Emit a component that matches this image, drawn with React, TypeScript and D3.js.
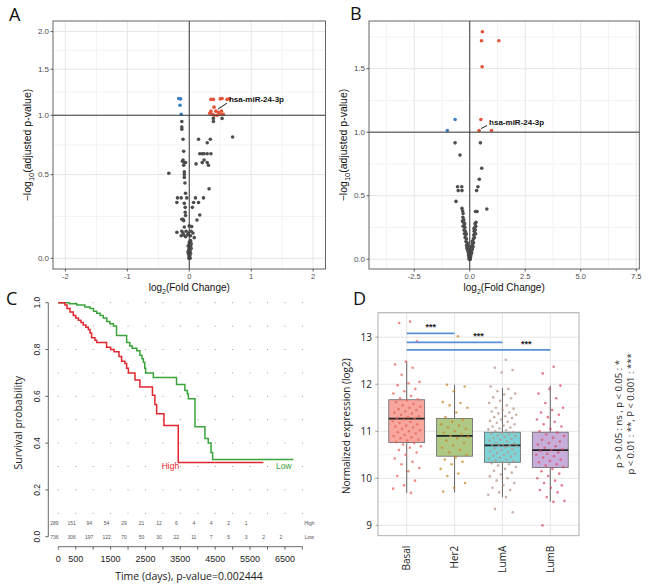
import React from 'react';
import * as d3 from 'd3';

/* ---------- panel A : volcano (log1p y axis) ---------- */
// [log2 fold change, -log10 adjusted p]
const aUp: [number, number][] = [
  [0.35, 1.16], [0.39, 1.16], [0.5, 1.165], [0.53, 1.17], [0.61, 1.16], [0.65, 1.165],
  [0.4, 1.08], [0.35, 1.04], [0.47, 1.03], [0.52, 1.04], [0.37, 1.01], [0.4, 1.0],
  [0.45, 1.0], [0.5, 1.01], [0.55, 1.01], [0.33, 1.02], [0.43, 1.04],
];
const aDown: [number, number][] = [[-0.17, 1.17], [-0.14, 1.165], [-0.15, 1.1], [-0.13, 1.01]];
const aNs: [number, number][] = [
  [0.39, 0.97], [0.53, 0.97], [0.39, 0.94], [-0.12, 0.94], [-0.12, 0.89], [-0.12, 0.87],
  [0.7, 0.8], [0.15, 0.78], [0.34, 0.78], [0.29, 0.75], [-0.1, 0.78], [-0.09, 0.68],
  [0.17, 0.66], [0.21, 0.66], [0.24, 0.66], [0.29, 0.66], [0.35, 0.66],
  [0.24, 0.61], [0.29, 0.59], [0.21, 0.59], [0.11, 0.58], [0.31, 0.57],
  [-0.11, 0.6], [-0.08, 0.59], [-0.06, 0.59], [-0.09, 0.57], [-0.1, 0.61],
  [-0.33, 0.51], [-0.08, 0.52], [-0.08, 0.5], [-0.08, 0.48], [-0.07, 0.44], [0.32, 0.4],
  [-0.19, 0.34], [-0.06, 0.37], [-0.04, 0.34], [0.1, 0.34], [0.23, 0.34],
  [-0.2, 0.31], [0.07, 0.31], [0.15, 0.31], [-0.08, 0.305], [-0.13, 0.34],
  [-0.065, 0.28], [-0.065, 0.25], [-0.06, 0.23], [0.05, 0.28], [0.17, 0.233], [0.125, 0.204],
  [-0.12, 0.208], [-0.1, 0.208], [-0.09, 0.2],
  [-0.08, 0.164], [0.04, 0.166], [0.0, 0.17],
  [-0.2, 0.134], [-0.12, 0.14], [-0.1, 0.13], [-0.05, 0.14], [-0.01, 0.13], [0.03, 0.14], [0.06, 0.13],
  [-0.13, 0.115], [-0.06, 0.11], [0.02, 0.115], [0.08, 0.105], [-0.09, 0.12], [-0.03, 0.12],
  [0.02, 0.09], [0.0, 0.08], [0.03, 0.07], [-0.01, 0.065], [0.02, 0.06], [0.01, 0.055],
  [0.0, 0.05], [0.02, 0.045], [-0.01, 0.04], [0.01, 0.035], [0.0, 0.03], [0.02, 0.025],
  [-0.01, 0.02], [0.01, 0.015], [0.0, 0.01], [0.005, 0.005], [-0.005, 0.0], [0.015, 0.0],
  [0.03, 0.05], [-0.02, 0.03], [0.025, 0.08], [-0.015, 0.06],
];
const aLabelPoint: [number, number] = [0.43, 1.04];

/* ---------- panel B : volcano (linear) ---------- */
const bUp: [number, number][] = [
  [0.57, 1.79], [0.53, 1.72], [1.31, 1.72], [0.56, 1.515], [0.5, 1.1], [0.42, 1.013], [0.98, 1.013],
];
const bDown: [number, number][] = [[-0.66, 1.1], [-1.01, 1.013]];
const bNs: [number, number][] = [
  [-0.66, 0.916], [0.48, 0.916], [-0.44, 0.82], [0.54, 0.716], [0.43, 0.63],
  [-0.55, 0.57], [-0.36, 0.57], [-0.52, 0.54], [-0.35, 0.54], [0.37, 0.57], [0.31, 0.54],
  [-0.62, 0.455], [0.77, 0.395], [0.26, 0.376], [0.33, 0.376],
  [-0.35, 0.4], [-0.32, 0.38], [-0.3, 0.36], [-0.31, 0.33], [-0.27, 0.31], [-0.33, 0.3],
  [-0.28, 0.29], [-0.25, 0.27], [-0.3, 0.26], [-0.22, 0.25], [-0.26, 0.23], [-0.2, 0.22],
  [-0.24, 0.2], [-0.18, 0.19], [-0.21, 0.17], [-0.15, 0.16], [-0.17, 0.14], [-0.12, 0.13],
  [-0.14, 0.11], [-0.1, 0.1], [-0.11, 0.08], [-0.08, 0.07], [-0.06, 0.05], [-0.04, 0.04],
  [-0.05, 0.03], [-0.02, 0.02], [-0.03, 0.01], [-0.01, 0.005],
  [0.28, 0.29], [0.24, 0.28], [0.27, 0.26], [0.22, 0.25], [0.25, 0.23], [0.2, 0.22],
  [0.23, 0.2], [0.18, 0.19], [0.21, 0.17], [0.16, 0.16], [0.14, 0.14], [0.17, 0.13],
  [0.12, 0.12], [0.15, 0.1], [0.1, 0.09], [0.12, 0.08], [0.08, 0.07], [0.06, 0.06],
  [0.09, 0.05], [0.05, 0.04], [0.03, 0.03], [0.04, 0.02], [0.02, 0.01], [0.01, 0.005],
  [0.0, 0.0], [0.02, 0.0], [-0.02, 0.0],
  [-0.13, 0.09], [-0.09, 0.12], [0.07, 0.1], [0.11, 0.14], [-0.07, 0.06], [0.05, 0.08],
  [-0.16, 0.2], [0.19, 0.24], [-0.23, 0.28], [0.26, 0.2], [0.0, 0.04], [-0.01, 0.07],
];
const bLabelPoint: [number, number] = [0.42, 1.013];
const geneLabel = 'hsa-miR-24-3p';

/* ---------- panel C : Kaplan-Meier ---------- */
const lowTimes = [0, 320, 530, 760, 910, 1010, 1100, 1200, 1290, 1390, 1480, 1580, 1670, 1960, 2050, 2120, 2250, 2340, 2400, 2440, 2480, 2505, 2725, 3390, 3630, 3700, 3730, 3920, 4205, 4300, 4380, 4425, 6740];
const lowSurv = [1.0, 0.995, 0.99, 0.982, 0.975, 0.963, 0.955, 0.945, 0.935, 0.92, 0.91, 0.9, 0.86, 0.83, 0.815, 0.805, 0.795, 0.775, 0.76, 0.745, 0.72, 0.7, 0.68, 0.65, 0.625, 0.61, 0.59, 0.47, 0.42, 0.4, 0.36, 0.33, 0.33];
const highTimes = [0, 190, 250, 335, 430, 500, 575, 650, 715, 790, 860, 910, 955, 1050, 1100, 1385, 1500, 1600, 1740, 1815, 1910, 1960, 2010, 2200, 2340, 2700, 2770, 2820, 3030, 3440, 5880];
const highSurv = [1.0, 0.99, 0.975, 0.96, 0.945, 0.935, 0.925, 0.915, 0.905, 0.895, 0.885, 0.87, 0.85, 0.84, 0.83, 0.81, 0.8, 0.79, 0.77, 0.75, 0.74, 0.72, 0.7, 0.67, 0.64, 0.605, 0.565, 0.525, 0.475, 0.317, 0.317];
const highAtRisk = [289, 151, 94, 54, 29, 21, 12, 6, 4, 4, 2, 1];
const lowAtRisk = [736, 306, 197, 122, 70, 50, 30, 22, 11, 7, 5, 3, 2, 2];
const cXLabels = [0, 500, 1500, 2500, 3500, 4500, 5500, 6500];
const cYTicks = [0, 0.2, 0.4, 0.6, 0.8, 1.0];

/* ---------- panel D : boxplots ---------- */
const subtypes = ['Basal', 'Her2', 'LumA', 'LumB'];
const boxQ1 = [10.76, 10.47, 10.34, 10.23];
const boxMed = [11.27, 10.9, 10.7, 10.6];
const boxQ3 = [11.67, 11.27, 10.98, 10.98];
const boxLo = [9.69, 9.7, 9.6, 9.5];
const boxHi = [12.48, 11.99, 11.92, 11.97];
const basalVals = [13.33, 13.3, 12.91, 12.48, 12.42, 12.35, 12.2, 12.05, 12.02, 11.98, 11.9, 11.85, 11.8, 11.75, 11.7, 11.68, 11.66, 11.62, 11.58, 11.55, 11.52, 11.5, 11.47, 11.45, 11.42, 11.4, 11.38, 11.35, 11.32, 11.3, 11.28, 11.27, 11.25, 11.22, 11.2, 11.18, 11.15, 11.12, 11.1, 11.08, 11.05, 11.02, 11.0, 10.98, 10.95, 10.92, 10.9, 10.87, 10.85, 10.82, 10.8, 10.77, 10.75, 10.72, 10.68, 10.65, 10.6, 10.55, 10.5, 10.42, 10.35, 10.3, 10.22, 10.15, 10.05, 9.95, 9.85, 9.78, 9.69];
const her2Vals = [13.02, 11.99, 11.95, 11.85, 11.62, 11.6, 11.55, 11.5, 11.4, 11.3, 11.25, 11.2, 11.15, 11.12, 11.08, 11.05, 11.0, 10.97, 10.93, 10.9, 10.88, 10.85, 10.8, 10.75, 10.7, 10.65, 10.6, 10.55, 10.5, 10.45, 10.4, 10.35, 10.3, 10.2, 10.1, 10.05, 9.9, 9.8, 9.72];
const lumAVals = [12.52, 12.35, 12.3, 12.25, 11.95, 11.9, 11.85, 11.8, 11.78, 11.72, 11.7, 11.65, 11.6, 11.55, 11.5, 11.48, 11.45, 11.42, 11.4, 11.38, 11.35, 11.32, 11.3, 11.28, 11.25, 11.22, 11.2, 11.18, 11.15, 11.12, 11.1, 11.08, 11.06, 11.04, 11.02, 11.0, 10.98, 10.96, 10.95, 10.93, 10.91, 10.9, 10.88, 10.86, 10.84, 10.82, 10.8, 10.78, 10.76, 10.74, 10.72, 10.71, 10.7, 10.69, 10.68, 10.66, 10.64, 10.62, 10.6, 10.58, 10.56, 10.54, 10.52, 10.5, 10.48, 10.46, 10.44, 10.42, 10.4, 10.38, 10.36, 10.34, 10.32, 10.3, 10.27, 10.24, 10.2, 10.16, 10.12, 10.08, 10.04, 10.0, 9.95, 9.9, 9.85, 9.8, 9.75, 9.7, 9.65, 9.6, 9.35, 9.28];
const lumBVals = [12.37, 12.23, 11.97, 11.9, 11.8, 11.7, 11.6, 11.5, 11.45, 11.4, 11.35, 11.3, 11.25, 11.2, 11.15, 11.1, 11.05, 11.0, 10.97, 10.93, 10.9, 10.86, 10.82, 10.78, 10.75, 10.72, 10.68, 10.65, 10.62, 10.6, 10.58, 10.55, 10.52, 10.5, 10.47, 10.44, 10.4, 10.37, 10.34, 10.3, 10.27, 10.24, 10.2, 10.15, 10.1, 10.05, 10.0, 9.95, 9.9, 9.85, 9.8, 9.75, 9.7, 9.6, 9.52, 9.5, 9.0];
const sigBarsY = [13.08, 12.89, 12.73]; // Basal vs Her2, LumA, LumB
const dYTicks = [9, 10, 11, 12, 13];

/* style */
const GG = "'Liberation Sans', Arial, sans-serif";
const SEG = "'Open Sans', 'Noto Sans', sans-serif";
const GRID_MAJ = '#E6E6E6';
const GRID_MIN = '#F3F3F3';
const NS_COL = '#4D4D4D';
const UP_COL = '#E4533A';
const DOWN_COL = '#3C7DBE';
const BOX_FILL = ['#F7A79E', '#AFC985', '#7ED3D6', '#C7AEDA'];
const PT_FILL = ['#E8655A', '#C98A2E', '#B8978A', '#D9506A'];

function GGFrame({ x0, x1, y0, y1 }: any) {
  return <rect x={x0} y={y0} width={x1 - x0} height={y1 - y0} fill="none" stroke="#555" strokeWidth={0.9} />;
}

function Volcano(props: any) {
  const { x, y, box, xMaj, xMin, yMaj, yMin, xFmt, yFmt, up, down, ns, labelPt, labelDx, labelDy, title } = props;
  const [x0, x1, y0, y1] = box;
  const pts = (arr: [number, number][], col: string) =>
    arr.map((d, i) => <circle key={col + i} cx={x(d[0])} cy={y(d[1])} r={1.8} fill={col} />);
  const lp = [x(labelPt[0]), y(labelPt[1])];
  return (
    <g>
      {xMin.map((v: number) => <line key={'xm' + v} x1={x(v)} x2={x(v)} y1={y0} y2={y1} stroke={GRID_MIN} />)}
      {yMin.map((v: number) => <line key={'ym' + v} x1={x0} x2={x1} y1={y(v)} y2={y(v)} stroke={GRID_MIN} />)}
      {xMaj.map((v: number) => <line key={'xM' + v} x1={x(v)} x2={x(v)} y1={y0} y2={y1} stroke={GRID_MAJ} />)}
      {yMaj.map((v: number) => <line key={'yM' + v} x1={x0} x2={x1} y1={y(v)} y2={y(v)} stroke={GRID_MAJ} />)}
      {pts(ns, NS_COL)}
      {pts(down, DOWN_COL)}
      {pts(up, UP_COL)}
      <line x1={x0} x2={x1} y1={y(1)} y2={y(1)} stroke="#3a3a3a" strokeWidth={1} />
      <line x1={x(0)} x2={x(0)} y1={y0} y2={y1} stroke="#3a3a3a" strokeWidth={1} />
      <line x1={lp[0] + 2} y1={lp[1] - 2} x2={lp[0] + labelDx - 2} y2={lp[1] + labelDy + 1} stroke="#000" strokeWidth={0.9} />
      <text x={lp[0] + labelDx} y={lp[1] + labelDy} fontFamily={GG} fontSize={8} fontWeight="bold" fill="#111">{geneLabel}</text>
      <GGFrame x0={x0} x1={x1} y0={y0} y1={y1} />
      {xMaj.map((v: number) => (
        <g key={'xt' + v}>
          <line x1={x(v)} x2={x(v)} y1={y1} y2={y1 + 2.5} stroke="#333" strokeWidth={0.8} />
          <text x={x(v)} y={y1 + 10} textAnchor="middle" fontFamily={GG} fontSize={7.5} fill="#4D4D4D">{xFmt(v)}</text>
        </g>
      ))}
      {yMaj.map((v: number) => (
        <g key={'yt' + v}>
          <line x1={x0 - 2.5} x2={x0} y1={y(v)} y2={y(v)} stroke="#333" strokeWidth={0.8} />
          <text x={x0 - 4} y={y(v) + 2.8} textAnchor="end" fontFamily={GG} fontSize={8} fill="#4D4D4D">{yFmt(v)}</text>
        </g>
      ))}
      <text x={(x0 + x1) / 2} y={291} textAnchor="middle" fontFamily={GG} fontSize={10} fill="#111">
        log<tspan fontSize={7} dy={2.5}>2</tspan><tspan dy={-2.5}>(Fold Change)</tspan>
      </text>
      <text transform={`translate(${title},${(y0 + y1) / 2}) rotate(-90)`} textAnchor="middle" fontFamily={GG} fontSize={10.5} fill="#111">
        −log<tspan fontSize={7.5} dy={2.5}>10</tspan><tspan dy={-2.5}>(adjusted p-value)</tspan>
      </text>
    </g>
  );
}

function PanelA() {
  const box = [53, 325.5, 21, 269];
  const x = d3.scaleLinear().domain([-2.2, 2.2]).range([box[0], box[1]]);
  const yt = d3.scaleLinear().domain([-0.052, 1.15]).range([box[3], box[2]]);
  const y = (v: number) => yt(Math.log1p(v));
  const yMaj = [0, 0.5, 1, 1.5, 2];
  const yMin = d3.pairs(yMaj).map(([a, b]) => Math.expm1((Math.log1p(a) + Math.log1p(b)) / 2));
  return (
    <Volcano x={x} y={y} box={box} xMaj={[-2, -1, 0, 1, 2]} xMin={[-1.5, -0.5, 0.5, 1.5]}
      yMaj={yMaj} yMin={yMin} xFmt={(v: number) => String(v)} yFmt={(v: number) => v.toFixed(1)}
      up={aUp} down={aDown} ns={aNs} labelPt={aLabelPoint} labelDx={13} labelDy={-9} title={31} />
  );
}

function PanelB() {
  const box = [369, 639.3, 21, 269];
  const x = d3.scaleLinear().domain([-4.54, 7.64]).range([box[0], box[1]]);
  const y = d3.scaleLinear().domain([-0.077, 1.875]).range([box[3], box[2]]);
  return (
    <Volcano x={x} y={y} box={box} xMaj={[-2.5, 0, 2.5, 5, 7.5]} xMin={[-3.75, -1.25, 1.25, 3.75, 6.25]}
      yMaj={[0, 0.5, 1, 1.5]} yMin={[0.25, 0.75, 1.25, 1.75]} xFmt={(v: number) => v.toFixed(1)}
      yFmt={(v: number) => v.toFixed(1)} up={bUp} down={bDown} ns={bNs} labelPt={bLabelPoint}
      labelDx={10} labelDy={-6} title={347} />
  );
}

function PanelC() {
  const x = d3.scaleLinear().domain([0, 7000]).range([58.3, 302.4]);
  const y = d3.scaleLinear().domain([0, 1]).range([536.7, 302.7]);
  const axisY = 546.7;
  const axisX = 48.3;
  const line = d3.line<[number, number]>().x(d => x(d[0])).y(d => y(d[1])).curve(d3.curveStepAfter);
  const low = lowTimes.map((t, i) => [t, lowSurv[i]] as [number, number]);
  const high = highTimes.map((t, i) => [t, highSurv[i]] as [number, number]);
  const gridT = d3.range(0, 7001, 500);
  const gridS = d3.range(1, 11).map(i => i / 10);
  return (
    <g>
      {gridS.map(s => gridT.map(t => (
        <rect key={s + '_' + t} x={x(t) - 0.5} y={y(s) - 0.5} width={1} height={1} fill="#9a9a9a" />
      )))}
      <path d={line(low) || ''} fill="none" stroke="#3AA33A" strokeWidth={1.5} />
      <path d={line(high) || ''} fill="none" stroke="#E2262F" strokeWidth={1.5} />
      <text x={x(2965)} y={469} fontFamily={GG} fontSize={8.5} fill="#E2262F">High</text>
      <text x={x(6243)} y={469} fontFamily={GG} fontSize={8.5} fill="#3AA33A">Low</text>
      {highAtRisk.map((n, i) => (
        <text key={'h' + i} x={x(i * 500) - 4} y={y(0.06) + 2} textAnchor="middle" fontFamily={GG} fontSize={5} fill="#555">{n}</text>
      ))}
      {lowAtRisk.map((n, i) => (
        <text key={'l' + i} x={x(i * 500) - 4} y={y(0) + 2} textAnchor="middle" fontFamily={GG} fontSize={5} fill="#555">{n}</text>
      ))}
      <text x={x(7000) + 7} y={y(0.06) + 2} textAnchor="middle" fontFamily={GG} fontSize={5} fill="#555">High</text>
      <text x={x(7000) + 7} y={y(0) + 2} textAnchor="middle" fontFamily={GG} fontSize={5} fill="#555">Low</text>
      {/* axes */}
      <line x1={axisX} x2={axisX} y1={y(0)} y2={y(1)} stroke="#444" strokeWidth={0.8} />
      {cYTicks.map(v => (
        <g key={'cy' + v}>
          <line x1={axisX - 3} x2={axisX} y1={y(v)} y2={y(v)} stroke="#444" strokeWidth={0.8} />
          <text transform={`translate(${axisX - 8},${y(v)}) rotate(-90)`} textAnchor="middle" fontFamily={GG} fontSize={8.5} fill="#222">{v.toFixed(1)}</text>
        </g>
      ))}
      <line x1={x(0)} x2={x(7000)} y1={axisY} y2={axisY} stroke="#444" strokeWidth={0.8} />
      {gridT.map(t => <line key={'ct' + t} x1={x(t)} x2={x(t)} y1={axisY} y2={axisY + 3} stroke="#444" strokeWidth={0.8} />)}
      {cXLabels.map(t => (
        <text key={'cx' + t} x={x(t)} y={axisY + 15} textAnchor="middle" fontFamily={GG} fontSize={9} fill="#222">{t}</text>
      ))}
      <text x={189} y={580} textAnchor="middle" fontFamily={SEG} fontSize={10.5} fill="#222">Time (days), p-value=0.002444</text>
      <text transform={`translate(22,${(y(0) + y(1)) / 2 + 3}) rotate(-90)`} textAnchor="middle" fontFamily={SEG} fontSize={10.5} fill="#222">Survival probability</text>
    </g>
  );
}

function PanelD() {
  const x0 = 378, x1 = 579, y0 = 312.7, y1 = 535.7;
  const x = d3.scalePoint<string>().domain(subtypes).range([x0, x1]).padding(0.6);
  const y = d3.scaleLinear().domain([8.78, 13.52]).range([y1, y0]);
  const step = x.step();
  const bw = step * 0.75;
  const groups = [basalVals, her2Vals, lumAVals, lumBVals];
  const minor = [9.5, 10.5, 11.5, 12.5, 13.5];
  return (
    <g>
      {minor.map(v => <line key={'dm' + v} x1={x0} x2={x1} y1={y(v)} y2={y(v)} stroke={GRID_MIN} />)}
      {dYTicks.map(v => <line key={'dM' + v} x1={x0} x2={x1} y1={y(v)} y2={y(v)} stroke={GRID_MAJ} />)}
      {subtypes.map(c => <line key={'dv' + c} x1={x(c)} x2={x(c)} y1={y0} y2={y1} stroke={GRID_MAJ} />)}
      {subtypes.map((c, i) => {
        const cx = x(c) as number;
        return (
          <g key={'box' + c}>
            <line x1={cx} x2={cx} y1={y(boxQ3[i])} y2={y(boxHi[i])} stroke="#666" />
            <line x1={cx} x2={cx} y1={y(boxQ1[i])} y2={y(boxLo[i])} stroke="#666" />
            <rect x={cx - bw / 2} y={y(boxQ3[i])} width={bw} height={y(boxQ1[i]) - y(boxQ3[i])} fill={BOX_FILL[i]} stroke="#666" strokeWidth={0.8} />
            <line x1={cx - bw / 2} x2={cx + bw / 2} y1={y(boxMed[i])} y2={y(boxMed[i])} stroke="#222" strokeWidth={1.8} />
          </g>
        );
      })}
      {groups.map((vals, gi) => vals.map((v, i) => {
        const jit = (((i + 1) * 0.6180339887) % 1 - 0.5) * step * 0.6;
        return <circle key={gi + '_' + i} cx={(x(subtypes[gi]) as number) + jit} cy={y(v)} r={1.3} fill={PT_FILL[gi]} fillOpacity={0.75} />;
      }))}
      {sigBarsY.map((v, i) => (
        <g key={'sig' + i}>
          <line x1={x('Basal')} x2={x(subtypes[i + 1])} y1={y(v)} y2={y(v)} stroke="#5A8FD6" strokeWidth={1.6} />
          <text x={((x(subtypes[i]) as number) + (x(subtypes[i + 1]) as number)) / 2} y={y(v) - 3} textAnchor="middle" fontFamily={GG} fontSize={9} fontWeight="bold" fill="#222">***</text>
        </g>
      ))}
      <rect x={x0} y={y0} width={x1 - x0} height={y1 - y0} fill="none" stroke="#A8A8A8" strokeWidth={0.9} />
      {dYTicks.map(v => (
        <g key={'dyt' + v}>
          <line x1={x0 - 2.5} x2={x0} y1={y(v)} y2={y(v)} stroke="#999" />
          <text x={x0 - 6} y={y(v) + 3.5} textAnchor="end" fontFamily={SEG} fontSize={10} fill="#222">{v}</text>
        </g>
      ))}
      {subtypes.map(c => (
        <text key={'dxl' + c} transform={`translate(${(x(c) as number) + 3.5},${y1 + 10}) rotate(-90)`} textAnchor="end" fontFamily={SEG} fontSize={10} fill="#222">{c}</text>
      ))}
      <text transform={`translate(350,${(y0 + y1) / 2 + 2}) rotate(-90)`} textAnchor="middle" fontFamily={SEG} fontSize={10} fill="#222">Normalized expression (log2)</text>
      <text transform="translate(622,414) rotate(-90)" textAnchor="middle" fontFamily={SEG} fontSize={9.5} fill="#222">p &gt; 0.05 : ns , p &lt; 0.05 : *</text>
      <text transform="translate(634,414) rotate(-90)" textAnchor="middle" fontFamily={SEG} fontSize={9.5} fill="#222">p &lt; 0.01 : **, P &lt; 0.001 : ***</text>
    </g>
  );
}

export default function App() {
  const lbl = { fontFamily: SEG, fontSize: 18, fill: '#111' };
  return (
    <svg width={648} height={584} style={{ position: 'absolute', left: 0, top: 0, background: '#fff' }}>
      <rect width={648} height={584} fill="#fff" />
      <PanelA />
      <PanelB />
      <PanelC />
      <PanelD />
      <text x={9} y={21} {...lbl}>A</text>
      <text x={350} y={20} {...lbl}>B</text>
      <text x={6} y={305} {...lbl}>C</text>
      <text x={353} y={305} {...lbl}>D</text>
    </svg>
  );
}
